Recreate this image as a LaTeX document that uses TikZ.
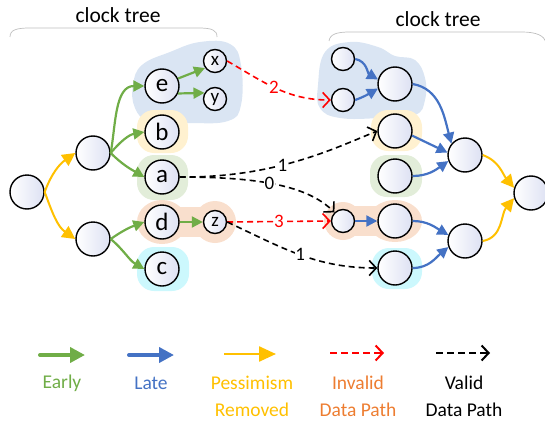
\documentclass[tikz,border=0pt]{standalone}
\usepackage{fontspec}
\setmainfont{Carlito}
\usetikzlibrary{arrows.meta}
\definecolor{cgreen}{HTML}{70AD47}
\definecolor{cblue}{HTML}{4472C4}
\definecolor{cyellow}{HTML}{FFC000}
\definecolor{cred}{HTML}{FF0000}
\definecolor{corange}{HTML}{ED7D31}
\definecolor{blobB}{HTML}{DAE5F3}
\definecolor{blobY}{HTML}{FFF1D0}
\definecolor{blobG}{HTML}{E2EDD9}
\definecolor{blobP}{HTML}{F9DFCD}
\definecolor{blobC}{HTML}{CCF8FD}
\definecolor{nodeshade}{HTML}{DDE1F3}
\definecolor{bracegray}{HTML}{BFBFBF}
\tikzset{
  big/.style={circle, draw, line width=1.4pt, minimum size=34pt, inner sep=0pt,
    left color=white, right color=nodeshade, font=\fontsize{25}{25}\selectfont},
  small/.style={big, minimum size=23pt, font=\fontsize{19}{19}\selectfont},
  early/.style={draw=cgreen, line width=2.2pt, -{Triangle[length=11pt,width=11pt]}},
  late/.style={draw=cblue, line width=2.2pt, -{Triangle[length=11pt,width=11pt]}},
  pess/.style={draw=cyellow, line width=2pt, -{Triangle[length=13pt,width=13pt]}},
  invalid/.style={draw=cred, line width=1.6pt, dash pattern=on 6pt off 4pt, -{Straight Barb[length=7pt,width=15pt]}},
  valid/.style={draw=black, line width=1.6pt, dash pattern=on 6pt off 4pt, -{Straight Barb[length=7pt,width=15pt]}},
  elabel/.style={font=\fontsize{19}{19}\selectfont, fill=white, inner sep=0.6pt},
  brace/.style={draw=bracegray, line width=0.7pt},
  title/.style={font=\fontsize{21.5}{21.5}\selectfont},
  legtext/.style={font=\fontsize{19.5}{27}\selectfont, align=center},
}
\begin{document}
\begin{tikzpicture}[x=1pt,y=1pt]
\useasboundingbox (0,0) rectangle (545,-420);
% blobs left
\fill[blobB] plot[smooth cycle, tension=0.7] coordinates {(133,-85) (142,-65) (170,-52) (200,-42) (230,-44) (241,-65) (241,-105) (228,-121) (190,-123) (150,-121) (135,-108)};
\fill[blobY, rounded corners=17pt] (137,-110) rectangle (188,-153);
\fill[blobG, rounded corners=17pt] (137,-155) rectangle (188,-200);
\fill[blobP] (162,-222) ellipse [x radius=25pt, y radius=22pt];
\fill[blobP] (215,-222) circle [radius=21pt];
\fill[blobP] (170,-207) rectangle (208,-237);
\fill[blobC, rounded corners=17pt] (137,-247) rectangle (189,-291);
% blobs right
\fill[blobB] plot[smooth cycle, tension=0.7] coordinates {(318,-85) (325,-52) (350,-42) (378,-47) (395,-56) (415,-60) (425,-78) (425,-100) (415,-115) (380,-118) (340,-118) (320,-108)};
\fill[blobY, rounded corners=17pt] (371,-110) rectangle (422,-151);
\fill[blobG, rounded corners=17pt] (370,-155) rectangle (422,-197);
\fill[blobP] (395,-221) ellipse [x radius=27pt, y radius=21pt];
\fill[blobP] (343,-221) circle [radius=19pt];
\fill[blobP] (345,-206) rectangle (385,-236);
\fill[blobC, rounded corners=17pt] (372,-248) rectangle (422,-289);
% braces and titles
\draw[brace] (10,-37) .. controls (10,-30) and (16,-28) .. (30,-28) -- (198,-28) .. controls (212,-28) and (217,-30) .. (217,-37);
\draw[brace] (329,-41) .. controls (330,-34) and (337,-32) .. (350,-32) -- (522,-32) .. controls (537,-32) and (544,-36) .. (546,-42);
\node[title] (t1) at (118,-15) {clock tree};
\node[title] (t2) at (438,-19) {clock tree};
% left tree nodes
\node[big] (L0) at (27,-192) {};
\node[big] (L1u) at (93,-153) {};
\node[big] (L1d) at (93,-239) {};
\node[big] (e) at (162,-86) {e};
\node[small] (x) at (215,-61) {x};
\node[small] (y) at (215,-99) {y};
\node[big] (b) at (162,-132) {b};
\node[big] (a) at (162,-177) {a};
\node[big] (d) at (162,-222) {d};
\node[small] (z) at (215,-222) {z};
\node[big] (c) at (162,-269) {c};
% right tree nodes
\node[small] (s1) at (343,-59) {};
\node[small] (s2) at (343,-100) {};
\node[big] (Re) at (395,-84) {};
\node[big] (Rb) at (395,-131) {};
\node[big] (Ra) at (395,-176) {};
\node[small] (sz) at (343,-221) {};
\node[big] (Rd) at (395,-221) {};
\node[big] (Rc) at (395,-268) {};
\node[big] (R1u) at (465,-155) {};
\node[big] (R1d) at (465,-241) {};
\node[big] (R0) at (531,-193) {};
% left edges
\draw[pess] (L0.east) to[out=70, in=215] (L1u.west);
\draw[pess] (L0.east) to[out=-70, in=145] (L1d.west);
\draw[early] (L1u.east) to[out=80, in=180] (e.west);
\draw[early] (L1u.east) to[out=50, in=190] (b.west);
\draw[early] (L1u.east) to[out=-45, in=150] (a.west);
\draw[early] (e.25) -- (x.215);
\draw[early] (e.-25) -- (y.150);
\draw[early] (L1d.east) to[out=35, in=200] (d.west);
\draw[early] (L1d.east) to[out=-40, in=150] (c.west);
\draw[early] (d.east) -- (z.west);
% right edges
\draw[late] (s1.east) to[out=-10, in=150] (Re.165);
\draw[late] (s2.east) to[out=20, in=210] (Re.195);
\draw[late] (Re.east) to[out=-10, in=105] (R1u.140);
\draw[late] (Rb.-15) -- (R1u.172);
\draw[late] (Ra.east) to[out=0, in=215] (R1u.200);
\draw[late] (sz.east) -- (Rd.west);
\draw[late] (Rd.east) to[out=0, in=150] (R1d.160);
\draw[late] (Rc.east) to[out=0, in=220] (R1d.200);
\draw[pess] (R1u.east) to[out=-20, in=130] (R0.163);
\draw[pess] (R1d.east) to[out=10, in=230] (R0.197);
% data paths
\draw[invalid] (x.east) to[out=-30, in=180] node[elabel, text=cred, pos=0.47] {2} (s2.west);
\draw[valid] (a.east) .. controls (275,-178) and (335,-148) .. node[elabel, pos=0.42] {1} (Rb.west);
\draw[valid] (a.east) .. controls (260,-177) and (308,-186) .. node[elabel, pos=0.45] {0} (sz.135);
\draw[invalid] (z.east) -- node[elabel, text=cred] {3} (sz.west);
\draw[valid] (z.east) to[out=-25, in=180] node[elabel, pos=0.5] {1} (Rc.west);
% legend
\coordinate (g1) at (40,-355); \coordinate (g2) at (85,-355);
\coordinate (b1) at (129,-355); \coordinate (b2) at (174,-355);
\coordinate (y1) at (224,-354); \coordinate (y2) at (276,-354);
\coordinate (r1) at (330,-353); \coordinate (r2) at (384,-353);
\coordinate (k1) at (436,-353); \coordinate (k2) at (490,-353);
\draw[draw=cgreen, line width=4pt, line cap=round, -{Triangle[length=15pt,width=15pt]}] (g1) -- (g2);
\draw[draw=cblue, line width=4pt, line cap=round, -{Triangle[length=15pt,width=15pt]}] (b1) -- (b2);
\draw[draw=cyellow, line width=2.4pt, -{Triangle[length=17pt,width=15pt]}] (y1) -- (y2);
\draw[draw=cred, line width=2pt, dash pattern=on 7pt off 4pt, -{Straight Barb[length=7pt,width=15pt]}] (r1) -- (r2);
\draw[draw=black, line width=2pt, dash pattern=on 7pt off 4pt, -{Straight Barb[length=7pt,width=15pt]}] (k1) -- (k2);
\node[legtext, text=cgreen] (tEarly) at (62,-383) {Early};
\node[legtext, text=cblue] (tLate) at (151,-383) {Late};
\node[legtext, text=cyellow] (tPess) at (252,-396) {Pessimism\\Removed};
\node[legtext, text=corange] (tInv) at (358,-396) {Invalid\\Data Path};
\node[legtext] (tVal) at (464,-396) {Valid\\Data Path};
\end{tikzpicture}
\end{document}
